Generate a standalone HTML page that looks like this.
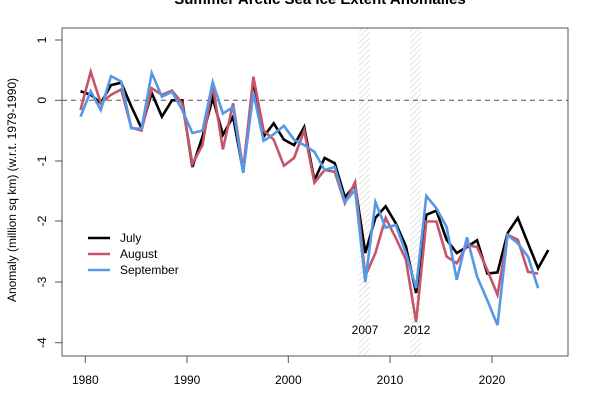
<!DOCTYPE html>
<html><head><meta charset="utf-8"><style>
html,body{margin:0;padding:0;background:#fff;}
svg{display:block;font-family:"Liberation Sans",Arial,sans-serif;}
</style></head><body>
<svg id="s" width="600" height="400" viewBox="0 0 600 400" xmlns="http://www.w3.org/2000/svg">
<defs>
<pattern id="h" width="4" height="4" patternUnits="userSpaceOnUse" patternTransform="rotate(45)">
<line x1="0" y1="0" x2="0" y2="4" stroke="#c8c8c8" stroke-width="1"/>
</pattern>
</defs>
<text x="320" y="4" text-anchor="middle" font-size="15" font-weight="bold">Summer Arctic Sea Ice Extent Anomalies</text>
<rect x="359" y="28" width="11" height="328" fill="url(#h)"/>
<rect x="410" y="28" width="11" height="328" fill="url(#h)"/>
<line x1="62" y1="100.3" x2="568" y2="100.3" stroke="#555" stroke-width="1" stroke-dasharray="5,4"/>
<g id="lines" fill="none" stroke-width="2.6" stroke-linejoin="miter"></g>
<rect x="62" y="28" width="506" height="328" fill="none" stroke="#555" stroke-width="1"/>
<g stroke="#555" stroke-width="1">
<line x1="85.3" y1="356" x2="85.3" y2="363"/><line x1="187" y1="356" x2="187" y2="363"/>
<line x1="288.3" y1="356" x2="288.3" y2="363"/><line x1="390" y1="356" x2="390" y2="363"/>
<line x1="492" y1="356" x2="492" y2="363"/>
<line x1="55" y1="40" x2="62" y2="40"/><line x1="55" y1="100.3" x2="62" y2="100.3"/>
<line x1="55" y1="161" x2="62" y2="161"/><line x1="55" y1="221" x2="62" y2="221"/>
<line x1="55" y1="282" x2="62" y2="282"/><line x1="55" y1="342.7" x2="62" y2="342.7"/>
</g>
<g font-size="12" text-anchor="middle">
<text x="85.3" y="384">1980</text><text x="187" y="384">1990</text><text x="288.3" y="384">2000</text>
<text x="390" y="384">2010</text><text x="492" y="384">2020</text>
<text transform="translate(46,40) rotate(-90)">1</text>
<text transform="translate(46,100.3) rotate(-90)">0</text>
<text transform="translate(46,161) rotate(-90)">-1</text>
<text transform="translate(46,221) rotate(-90)">-2</text>
<text transform="translate(46,282) rotate(-90)">-3</text>
<text transform="translate(46,342.7) rotate(-90)">-4</text>
<text transform="translate(16,190) rotate(-90)">Anomaly (million sq km) (w.r.t. 1979-1990)</text>
<text x="365" y="334">2007</text><text x="417" y="334">2012</text>
</g>
<g stroke-width="2.6">
<line x1="88" y1="238" x2="110" y2="238" stroke="#000"/>
<line x1="88" y1="254" x2="110" y2="254" stroke="#c8546a"/>
<line x1="88" y1="270" x2="110" y2="270" stroke="#5599e6"/>
</g>
<g font-size="12"><text x="120" y="242">July</text><text x="120" y="258">August</text><text x="120" y="274">September</text></g>
</svg>
<script>
var jul=[0.15,0.09,-0.05,0.25,0.29,-0.1,-0.46,0.12,-0.27,0,0,-1.1,-0.6,0.04,-0.57,-0.27,-1.18,0.33,-0.6,-0.38,-0.65,-0.74,-0.44,-1.32,-0.95,-1.04,-1.6,-1.4,-2.52,-1.94,-1.75,-2.03,-2.41,-3.18,-1.89,-1.82,-2.3,-2.52,-2.42,-2.31,-2.86,-2.84,-2.19,-1.94,-2.36,-2.77,-2.47];
var aug=[-0.16,0.47,-0.05,0.09,0.18,-0.45,-0.5,0.2,0.09,0.16,-0.05,-1.05,-0.74,0.25,-0.81,-0.05,-1.15,0.39,-0.5,-0.65,-1.08,-0.95,-0.5,-1.36,-1.15,-1.18,-1.7,-1.35,-2.9,-2.52,-1.94,-2.27,-2.63,-3.66,-2.0,-2.0,-2.58,-2.69,-2.39,-2.42,-2.8,-3.21,-2.22,-2.3,-2.83,-2.86];
var sep=[-0.27,0.15,-0.16,0.4,0.31,-0.46,-0.47,0.45,0.06,0.14,-0.16,-0.54,-0.5,0.3,-0.22,-0.11,-1.2,0.12,-0.67,-0.56,-0.42,-0.65,-0.74,-0.85,-1.15,-1.1,-1.68,-1.48,-3.0,-1.68,-2.1,-2.06,-2.52,-3.1,-1.58,-1.78,-2.09,-2.96,-2.26,-2.91,-3.3,-3.71,-2.22,-2.36,-2.58,-3.1];
var g=document.getElementById('lines');
[[jul,'#000'],[aug,'#c8546a'],[sep,'#5599e6']].forEach(function(a){
 var p=a[0].map(function(v,i){return (80.5+10.17*i).toFixed(1)+','+(100.3-60.6*v).toFixed(1)}).join(' ');
 var e=document.createElementNS('http://www.w3.org/2000/svg','polyline');
 e.setAttribute('points',p);e.setAttribute('stroke',a[1]);g.appendChild(e);
});
</script>
</body></html>
